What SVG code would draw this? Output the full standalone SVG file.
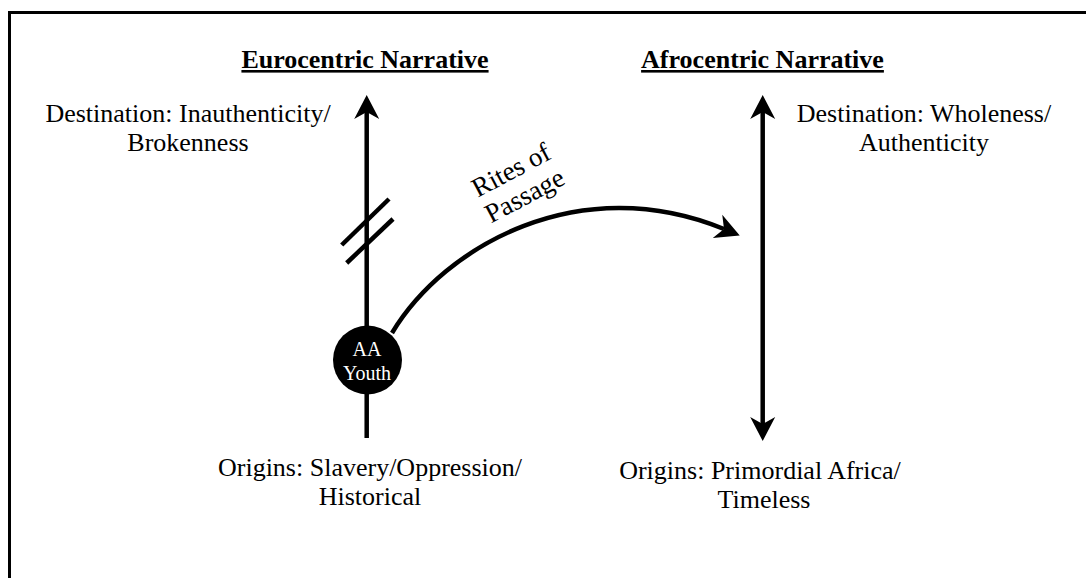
<svg xmlns="http://www.w3.org/2000/svg" width="1086" height="578" viewBox="0 0 1086 578">
<style>
  .t { font-family: "Liberation Serif", "Times New Roman", serif; font-size: 26px; fill: #000; text-anchor: middle; }
  .h { font-weight: bold; text-decoration: underline; }
  .w { font-family: "Liberation Serif", "Times New Roman", serif; font-size: 20px; fill: #fff; text-anchor: middle; }
  .ln { fill: none; stroke: #000; stroke-width: 4.5; }
</style>
<defs>
  <marker id="ah" markerUnits="userSpaceOnUse" viewBox="-8 -13 26 26" refX="0" refY="0" markerWidth="26" markerHeight="26" orient="auto-start-reverse">
    <path d="M17,0 L-7,-12.5 L0,0 L-7,12.5 Z" fill="#000"/>
  </marker>
</defs>
<rect x="9.5" y="12.5" width="1200" height="700" fill="#fff" stroke="#000" stroke-width="3"/>

<g id="heading-euro">
  <text class="t h" x="365" y="68">Eurocentric Narrative</text>
</g>
<g id="heading-afro">
  <text class="t h" x="762.5" y="68">Afrocentric Narrative</text>
</g>

<g id="dest-euro">
  <text class="t" x="188" y="122">Destination: Inauthenticity/</text>
  <text class="t" x="188" y="151">Brokenness</text>
</g>
<g id="dest-afro">
  <text class="t" x="924" y="122">Destination: Wholeness/</text>
  <text class="t" x="924" y="151">Authenticity</text>
</g>
<g id="orig-euro">
  <text class="t" x="370" y="476">Origins: Slavery/Oppression/</text>
  <text class="t" x="370" y="505">Historical</text>
</g>
<g id="orig-afro">
  <text class="t" x="760" y="479">Origins: Primordial Africa/</text>
  <text class="t" x="764" y="508">Timeless</text>
</g>

<g id="connectors">
  <path class="ln" d="M366.7,438 L366.7,112" marker-end="url(#ah)"/>
  <path class="ln" d="M762.7,112 L762.7,424" marker-start="url(#ah)" marker-end="url(#ah)"/>
  <line class="ln" x1="341.7" y1="245" x2="389" y2="199"/>
  <line class="ln" x1="346.7" y1="263" x2="393" y2="219"/>
  <path class="ln" d="M392,333 C445,245 580,170 724,229" marker-end="url(#ah)"/>
  <text class="t" style="font-size:27px" transform="translate(511,170) rotate(-28)"><tspan x="0" y="9">Rites of</tspan><tspan x="0" y="38">Passage</tspan></text>
</g>

<g id="node-youth">
  <circle cx="367.5" cy="360" r="34.5" fill="#000"/>
  <text class="w" x="367" y="356">AA</text>
  <text class="w" x="367" y="380">Youth</text>
</g>
</svg>
